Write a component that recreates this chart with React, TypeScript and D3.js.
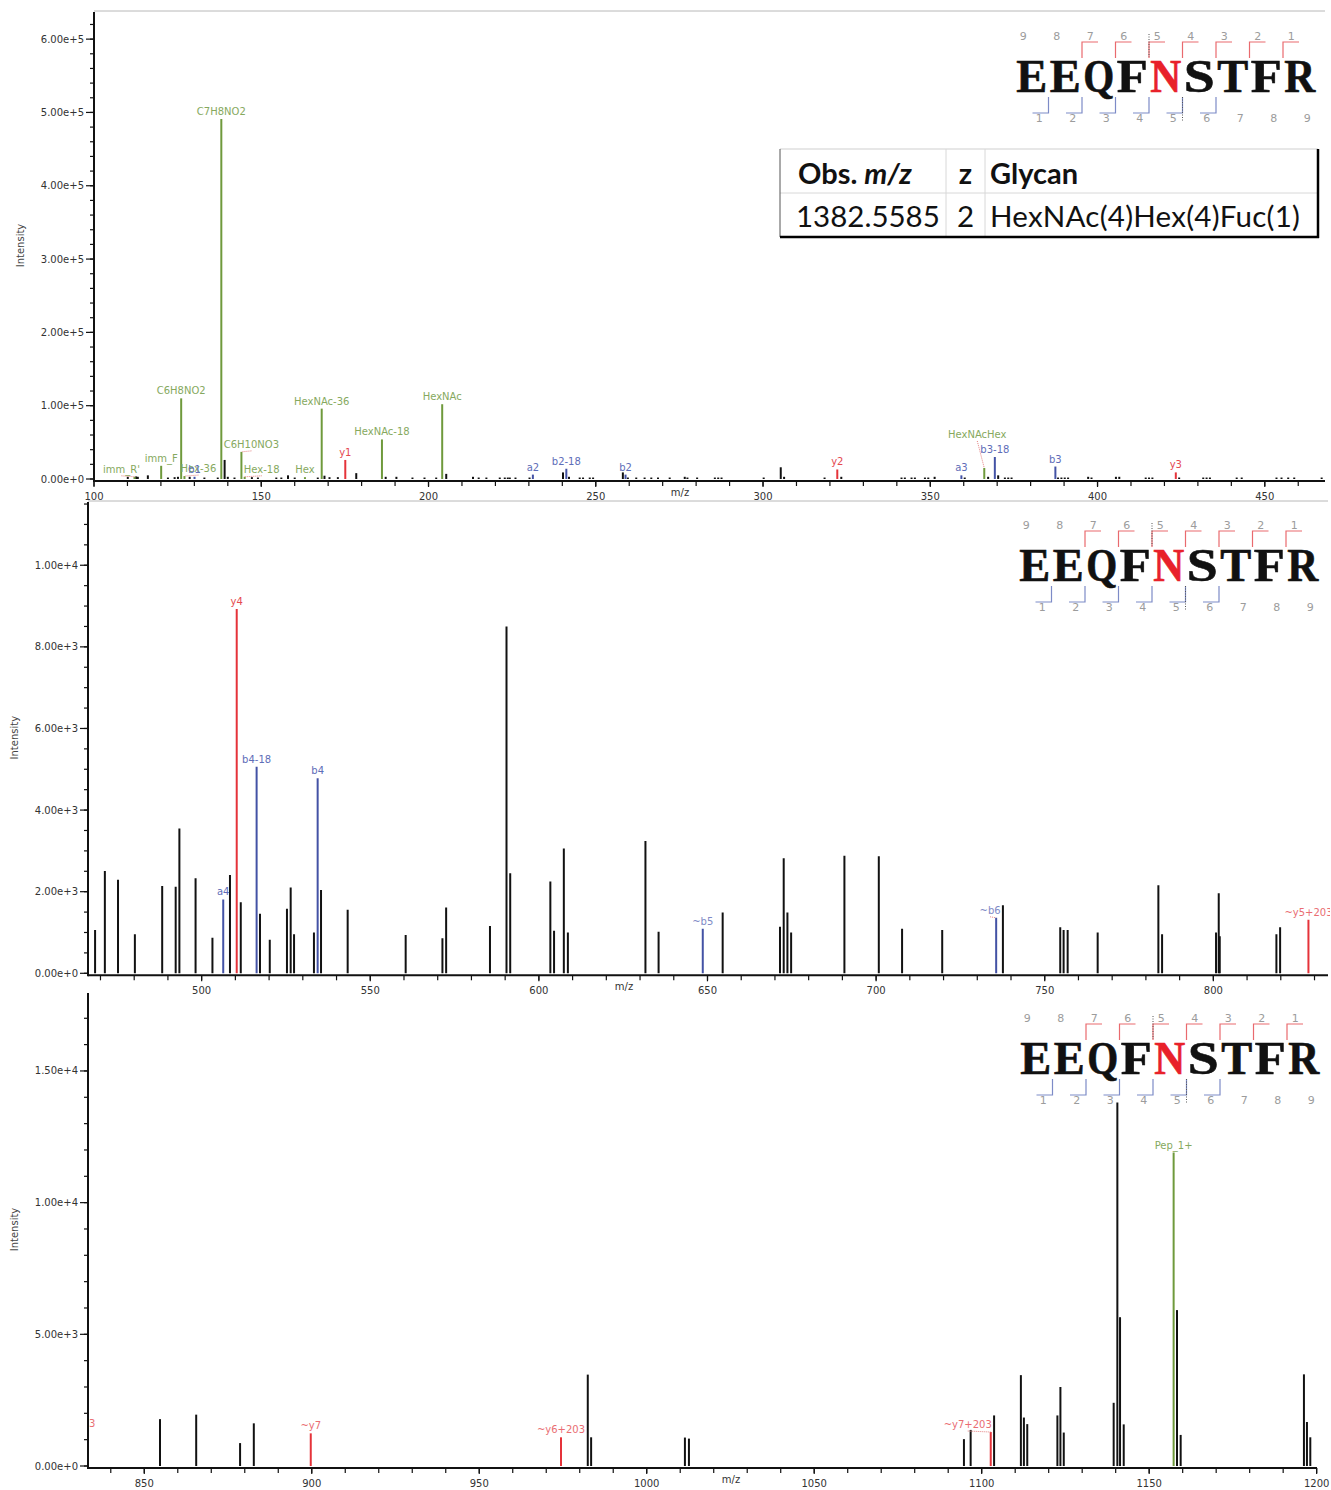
import React from "react";
import * as d3 from "d3";

// ---- Peptide / precursor information ----
const sequence = ["E", "E", "Q", "F", "N", "S", "T", "F", "R"];
const glycoSite = 4;
const yIonsSeen = [1, 2, 3, 4, 5, 6, 7];
const bIonsSeen = [1, 2, 3, 4, 5, 6];
const yIonsGlyco = [5];
const bIonsGlyco = [5];

const tableHeader = ["Obs. ", "m/z", "z", "Glycan"];
const tableRow = ["1382.5585", "2", "HexNAc(4)Hex(4)Fuc(1)"];

type Ion = [number, number, "g" | "y" | "b", string];

// ---- Low m/z range (100-468) ----
const lowPeaks: [number, number][] = [
  [110.1, 3000], [112.6, 3500], [113.1, 3000], [116.1, 5000], [122.1, 2000], [124.1, 2500],
  [125.1, 3000], [128.6, 3000], [133.0, 2000], [137.0, 2000], [139.05, 26000], [140.0, 3000],
  [142.0, 2000], [147.2, 2500], [149.0, 2000], [154.5, 2000], [156.0, 2000], [158.0, 5000],
  [160.0, 2000], [166.9, 2000], [168.9, 4500], [170.4, 2500], [172.9, 2500], [178.4, 8000],
  [187.2, 3000], [190.4, 3000], [195.2, 2000], [198.8, 2000], [202.3, 2000], [205.3, 7000],
  [213.3, 3000], [215.0, 2000], [217.3, 2000], [221.3, 2000], [222.8, 2000], [223.7, 2000],
  [224.3, 2000], [226.0, 2000], [230.2, 2000], [240.2, 9000], [242.0, 3000], [245.2, 2000],
  [246.2, 2000], [248.2, 2000], [249.2, 2000], [258.1, 9000], [259.6, 2000], [262.1, 2000],
  [264.6, 2000], [266.6, 2000], [268.6, 2000], [272.1, 2000], [276.6, 3000], [277.4, 2000],
  [280.3, 2000], [285.6, 2000], [286.6, 2000], [287.6, 2000], [300.2, 2000], [305.3, 16000],
  [306.3, 3000], [318.4, 2000], [323.4, 3000], [341.4, 2000], [342.4, 2000], [344.4, 2000],
  [345.4, 2000], [348.4, 2000], [349.4, 2000], [351.3, 3000], [360.3, 2000], [367.3, 3000],
  [370.3, 5000], [372.3, 2000], [373.3, 2000], [374.3, 2000], [388.2, 2000], [389.2, 2000],
  [390.2, 2000], [391.2, 2000], [397.2, 3000], [398.2, 2000], [405.5, 3000], [406.5, 3000],
  [414.4, 2000], [415.4, 2000], [416.4, 2000], [424.4, 2000], [431.6, 2000], [432.6, 2000],
  [433.6, 2000], [441.6, 2000], [443.1, 2000], [453.5, 2000], [455.0, 2000], [457.0, 2000],
  [458.8, 2000], [467.0, 2000],
];
const lowIons: Ion[] = [
  [112.1, 3000, "g", "imm_R'"],
  [120.08, 18000, "g", "imm_F"],
  [126.06, 110000, "g", "C6H8NO2"],
  [127.04, 4000, "g", "Hex-36"],
  [130.05, 3000, "b", "b1"],
  [138.06, 491000, "g", "C7H8NO2"],
  [144.07, 37000, "g", "C6H10NO3"],
  [145.05, 3000, "g", "Hex-18"],
  [163.06, 2500, "g", "Hex"],
  [168.07, 96000, "g", "HexNAc-36"],
  [175.12, 26000, "y", "y1"],
  [186.08, 54000, "g", "HexNAc-18"],
  [204.09, 102000, "g", "HexNAc"],
  [231.2, 6000, "b", "a2"],
  [241.2, 14000, "b", "b2-18"],
  [258.9, 6000, "b", "b2"],
  [322.2, 13000, "y", "y2"],
  [359.3, 5000, "b", "a3"],
  [366.14, 15000, "g", "HexNAcHex"],
  [369.3, 30000, "b", "b3-18"],
  [387.4, 17000, "b", "b3"],
  [423.4, 9000, "y", "y3"],
];

// ---- Middle m/z range (466-834) ----
const midPeaks: [number, number][] = [
  [468.4, 1060], [471.3, 2510], [475.2, 2290], [480.2, 960], [488.3, 2140], [492.3, 2120],
  [493.4, 3550], [498.2, 2330], [503.2, 870], [508.4, 2410], [511.6, 1740], [517.3, 1460],
  [520.2, 820], [525.3, 1580], [526.4, 2100], [527.4, 960], [533.3, 1000], [535.4, 2040],
  [543.3, 1560], [560.5, 940], [571.4, 860], [572.5, 1610], [585.5, 1160], [590.4, 8500],
  [591.5, 2450], [603.4, 2250], [604.5, 1040], [607.4, 3060], [608.6, 1000], [631.6, 3240],
  [635.5, 1020], [654.5, 1490], [671.5, 1140], [672.6, 2820], [673.7, 1490], [674.8, 1000],
  [690.6, 2880], [700.8, 2870], [707.7, 1090], [719.6, 1060], [737.6, 1670], [754.6, 1130],
  [755.6, 1060], [756.8, 1060], [765.7, 1000], [783.7, 2160], [784.8, 960], [800.8, 1000],
  [801.6, 1960], [801.9, 910], [818.7, 960], [819.8, 1130],
];
const midIons: Ion[] = [
  [506.4, 1810, "b", "a4"],
  [510.4, 8930, "y", "y4"],
  [516.3, 5060, "b", "b4-18"],
  [534.4, 4780, "b", "b4"],
  [648.6, 1090, "b", "~b5"],
  [735.6, 1360, "b", "~b6"],
  [828.2, 1310, "y", "~y5+203"],
];

// ---- High m/z range (833-1200) ----
const highPeaks: [number, number][] = [
  [854.7, 1780], [865.5, 1950], [878.6, 870], [882.7, 1620], [982.4, 3470], [983.4, 1090],
  [1011.4, 1080], [1012.6, 1040], [1094.7, 1020], [1096.7, 1370], [1103.7, 1920], [1111.7, 3450],
  [1112.6, 1840], [1113.6, 1590], [1122.6, 1920], [1123.5, 3000], [1124.5, 1270], [1139.4, 2400],
  [1140.5, 13800], [1141.3, 5650], [1142.4, 1580], [1158.3, 5920], [1159.4, 1180], [1196.2, 3480],
  [1197.1, 1670], [1198.1, 1090],
];
const highIons: Ion[] = [
  [828.2, 1310, "y", "~y5+203"],
  [899.7, 1240, "y", "~y7"],
  [974.4, 1090, "y", "~y6+203"],
  [1102.7, 1290, "y", "~y7+203"],
  [1157.3, 11900, "g", "Pep_1+"],
];

// ---- styling ----
const FONT = "'DejaVu Sans', Verdana, sans-serif";
const seriesColor = {
  g: { line: "#6f9a3c", text: "#86a95e" },
  y: { line: "#e5333a", text: "#e5494f" },
  b: { line: "#4352a5", text: "#5e6db8" },
};
// labels moved off their peak to avoid collisions (dx, dy in px)
const labelNudge: Record<string, [number, number]> = {
  "imm_R'": [-13, 0],
  "Hex-36": [14, 0],
  C6H10NO3: [10, 0],
  "Hex-18": [17, 0],
  HexNAcHex: [-7, -26],
  "~b6": [-6, 0],
  "~y7+203": [-23, 0],
};

type PanelCfg = {
  id: string;
  left: number;
  right: number;
  domain: [number, number];
  zeroY: number;
  topY: number;
  maxI: number;
  majorY: number;
  minorY: number;
  clipTop: number;
  mzLabelX: number;
  titleX: number;
  frame: boolean;
  logo: [number, number];
  peaks: [number, number][];
  ions: Ion[];
};

const panels: PanelCfg[] = [
  {
    id: "low", left: 94, right: 1325, domain: [100, 468], zeroY: 479, topY: 12, maxI: 637000,
    majorY: 100000, minorY: 20000, clipTop: 0, mzLabelX: 680, titleX: 20, frame: true,
    logo: [1015, 0], peaks: lowPeaks, ions: lowIons,
  },
  {
    id: "mid", left: 88, right: 1328, domain: [466.3, 834.0], zeroY: 973.3, topY: 502, maxI: 11550,
    majorY: 2000, minorY: 500, clipTop: 500, mzLabelX: 624, titleX: 14, frame: true,
    logo: [1018, 489], peaks: midPeaks, ions: midIons,
  },
  {
    id: "high", left: 88, right: 1317, domain: [833.2, 1200.1], zeroY: 1466, topY: 993, maxI: 17960,
    majorY: 5000, minorY: 1000, clipTop: 992, mzLabelX: 731, titleX: 14, frame: false,
    logo: [1019, 982], peaks: highPeaks, ions: highIons,
  },
];

function PeptideLogo({ x0, y0 }: { x0: number; y0: number }) {
  const pitch = 33.5;
  const n = sequence.length;
  return (
    <g transform={`translate(${x0},${y0})`} fontFamily={FONT}>
      {sequence.map((aa, i) => {
        const cx = pitch * (i + 0.5);
        return (
          <g key={i}>
            <text x={cx - 8.5} y={40} fontSize={11} fill="#9c9c9c" textAnchor="middle">{n - i}</text>
            <text x={cx + 7.5} y={122} fontSize={11} fill="#9c9c9c" textAnchor="middle">{i + 1}</text>
            <text
              x={cx - 15.5}
              y={92}
              fontSize={46}
              fontWeight="bold"
              fontFamily="'Liberation Serif', 'Times New Roman', serif"
              textLength={31}
              lengthAdjust="spacingAndGlyphs"
              fill={i === glycoSite ? "#e8212a" : "#111"}
              stroke={i === glycoSite ? "#e8212a" : "#111"}
              strokeWidth={0.6}
            >
              {aa}
            </text>
          </g>
        );
      })}
      {yIonsSeen.map((k) => {
        const bx = pitch * (n - k);
        return (
          <g key={"y" + k}>
            <path d={`M${bx},58V42H${bx + 16}`} fill="none" stroke="#e96a6e" strokeWidth={1.2} />
            {yIonsGlyco.includes(k) && (
              <line x1={bx} x2={bx} y1={34} y2={57} stroke="#555" strokeWidth={1} strokeDasharray="1,1.5" />
            )}
          </g>
        );
      })}
      {bIonsSeen.map((k) => {
        const bx = pitch * k;
        return (
          <g key={"b" + k}>
            <path d={`M${bx},97V113H${bx - 16}`} fill="none" stroke="#7d8bc7" strokeWidth={1.2} />
            {bIonsGlyco.includes(k) && (
              <line x1={bx} x2={bx} y1={97} y2={121} stroke="#555" strokeWidth={1} strokeDasharray="1,1.5" />
            )}
          </g>
        );
      })}
    </g>
  );
}

function GlycanTable() {
  const x0 = 780, x1 = 1318, y0 = 149, yMid = 193, y1 = 237;
  const c1 = 946, c2 = 985;
  const tf = "Lato, 'Open Sans', sans-serif";
  return (
    <g fontFamily={tf}>
      <rect x={x0} y={y0} width={x1 - x0} height={y1 - y0} fill="#fff" />
      <line x1={x0} x2={x1} y1={y0} y2={y0} stroke="#cfcfcf" strokeWidth={1} />
      <line x1={x0} x2={x1} y1={yMid} y2={yMid} stroke="#d8d8d8" strokeWidth={1} />
      <line x1={c1} x2={c1} y1={y0} y2={y1} stroke="#d8d8d8" strokeWidth={1} />
      <line x1={c2} x2={c2} y1={y0} y2={y1} stroke="#d8d8d8" strokeWidth={1} />
      <line x1={x0} x2={x0} y1={y0} y2={y1} stroke="#555" strokeWidth={1} />
      <line x1={x1} x2={x1} y1={y0} y2={y1 + 1} stroke="#000" strokeWidth={2.5} />
      <line x1={x0} x2={x1 + 1} y1={y1} y2={y1} stroke="#000" strokeWidth={2.5} />
      <text x={798} y={184} fontSize={29} fontWeight="bold" fill="#111">
        {tableHeader[0]}
        <tspan fontStyle="italic">{tableHeader[1]}</tspan>
      </text>
      <text x={965.5} y={184} fontSize={29} fontWeight="bold" fill="#111" textAnchor="middle">{tableHeader[2]}</text>
      <text x={990} y={184} fontSize={29} fontWeight="bold" fill="#111">{tableHeader[3]}</text>
      <text x={796} y={227} fontSize={29.5} fill="#111">{tableRow[0]}</text>
      <text x={965.5} y={227} fontSize={29.5} fill="#111" textAnchor="middle">{tableRow[1]}</text>
      <text x={990} y={227} fontSize={29.5} fill="#111" textLength={310} lengthAdjust="spacing">{tableRow[2]}</text>
    </g>
  );
}

function SpectrumPanel({ p }: { p: PanelCfg }) {
  const x = d3.scaleLinear().domain(p.domain).range([p.left, p.right]);
  const y = d3.scaleLinear().domain([0, p.maxI]).range([p.zeroY, p.topY]);
  const axisY = p.zeroY + 2;
  const fmtY = d3.format(".2e");
  const majorX = d3.range(Math.ceil(p.domain[0] / 50) * 50, p.domain[1] + 0.01, 50);
  const minorX = d3.range(Math.ceil(p.domain[0] / 10) * 10, p.domain[1] + 0.01, 10);
  const majorY = d3.range(0, p.maxI + 1, p.majorY);
  const minorY = d3.range(0, p.maxI + 1, p.minorY);
  const clipId = "clip-" + p.id;

  return (
    <g fontFamily={FONT}>
      <defs>
        <clipPath id={clipId}>
          <rect x={p.left} y={p.clipTop} width={p.right - p.left + 2} height={axisY - p.clipTop} />
        </clipPath>
      </defs>
      {p.frame && (
        <line x1={p.left} x2={p.right} y1={p.topY - 1} y2={p.topY - 1} stroke="#b8b8b8" strokeWidth={1} />
      )}
      <g clipPath={`url(#${clipId})`}>
        {p.peaks.map(([mz, inten], i) => (
          <line key={i} x1={x(mz)} x2={x(mz)} y1={y(0)} y2={y(inten)} stroke="#111" strokeWidth={2} />
        ))}
        {p.ions.map(([mz, inten, s], i) => (
          <line key={"i" + i} x1={x(mz)} x2={x(mz)} y1={y(0)} y2={y(inten)}
            stroke={seriesColor[s].line} strokeWidth={2} />
        ))}
        {p.ions.map(([mz, inten, s, label], i) => {
          const [dx, dy] = labelNudge[label] || [0, 0];
          const px = x(mz);
          const top = y(inten);
          const lx = px + dx;
          const ly = top - 4 + dy;
          const faint = label.startsWith("~");
          return (
            <g key={"l" + i}>
              {(dx !== 0 || dy !== 0) && (
                <line x1={lx} y1={ly + 3} x2={px} y2={top} stroke="#e58080" strokeWidth={1}
                  strokeDasharray="1,1" />
              )}
              <text x={lx} y={ly} fontSize={10} textAnchor="middle" fill={seriesColor[s].text}
                opacity={faint ? 0.8 : 1}>
                {label}
              </text>
            </g>
          );
        })}
      </g>
      {/* y axis */}
      <line x1={p.left} x2={p.left} y1={p.topY} y2={axisY + 1} stroke="#111" strokeWidth={2} />
      {minorY.map((v) => (
        <line key={"my" + v} x1={p.left - 4} x2={p.left} y1={y(v)} y2={y(v)} stroke="#111" strokeWidth={1.2} />
      ))}
      {majorY.map((v) => (
        <g key={"My" + v}>
          <line x1={p.left - 8} x2={p.left} y1={y(v)} y2={y(v)} stroke="#111" strokeWidth={1.2} />
          <text x={p.left - 10} y={y(v) + 3.5} fontSize={10} textAnchor="end" fill="#333">{fmtY(v)}</text>
        </g>
      ))}
      <text transform={`translate(${p.titleX + 3.5},${(p.topY + p.zeroY) / 2}) rotate(-90)`}
        fontSize={10} textAnchor="middle" fill="#444">Intensity</text>
      {/* x axis */}
      <line x1={p.left} x2={p.right} y1={axisY} y2={axisY} stroke="#111" strokeWidth={2} />
      {minorX.map((v) => (
        <line key={"mx" + v} x1={x(v)} x2={x(v)} y1={axisY} y2={axisY + 5} stroke="#111" strokeWidth={1.2} />
      ))}
      {majorX.map((v) => (
        <g key={"Mx" + v}>
          <line x1={x(v)} x2={x(v)} y1={axisY} y2={axisY + 6} stroke="#111" strokeWidth={1.2} />
          <text x={x(v)} y={axisY + 19} fontSize={10} textAnchor="middle" fill="#333">{v}</text>
        </g>
      ))}
      <text x={p.mzLabelX} y={axisY + 15} fontSize={10} textAnchor="middle" fill="#333">m/z</text>
      <PeptideLogo x0={p.logo[0]} y0={p.logo[1]} />
    </g>
  );
}

export default function App() {
  return (
    <svg
      width={1331}
      height={1490}
      viewBox="0 0 1331 1490"
      style={{ position: "absolute", left: 0, top: 0, background: "#fff" }}
    >
      <rect width={1331} height={1490} fill="#fff" />
      {panels.map((p) => (
        <SpectrumPanel key={p.id} p={p} />
      ))}
      <GlycanTable />
    </svg>
  );
}
